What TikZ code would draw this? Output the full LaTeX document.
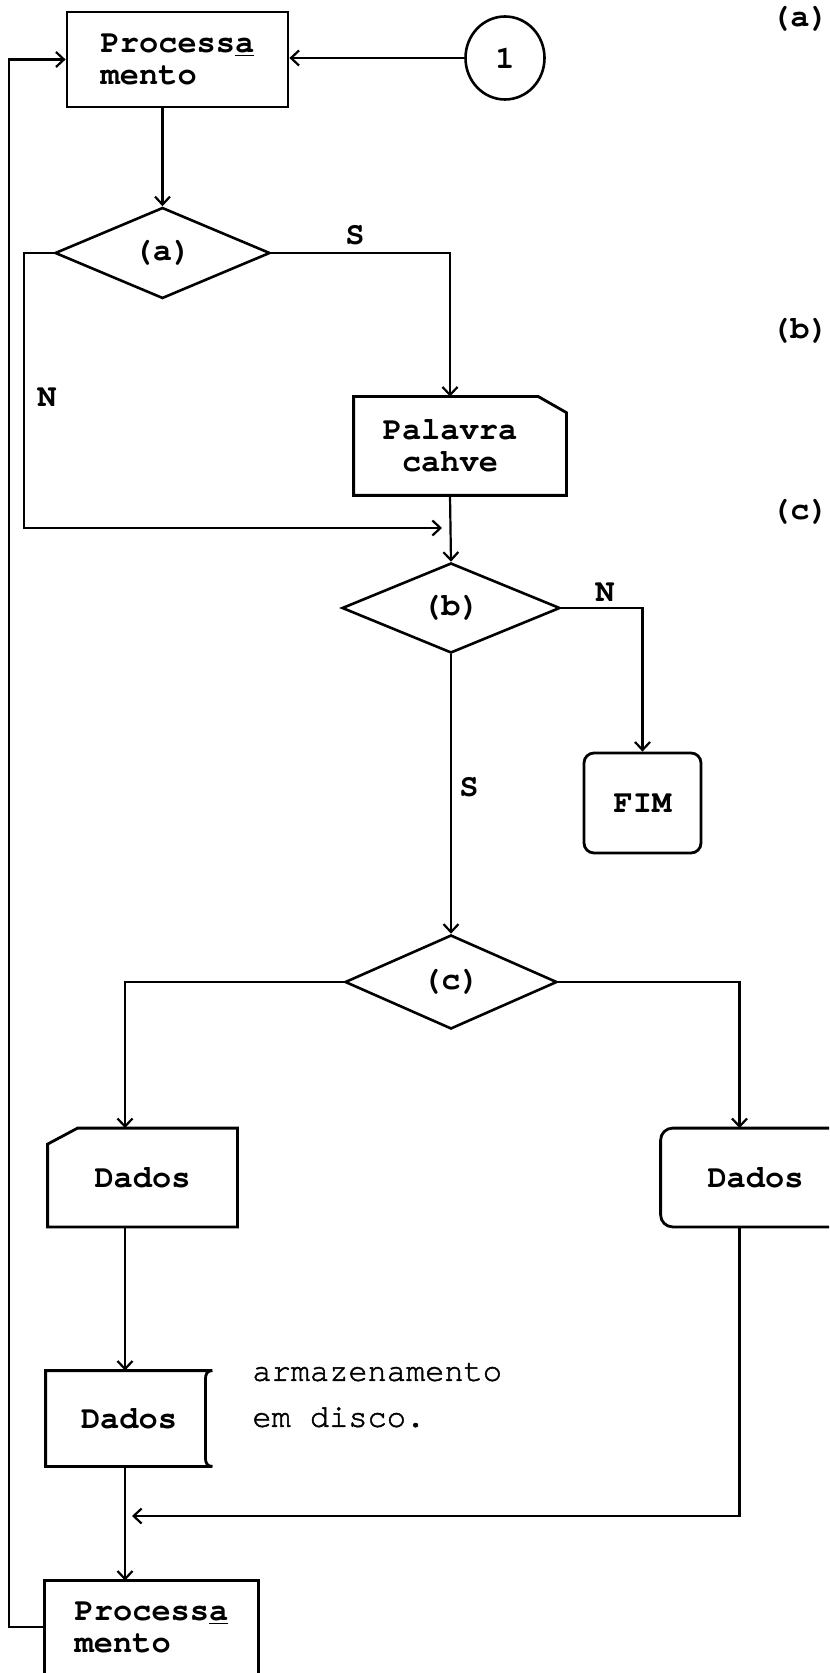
\documentclass[tikz,border=0pt]{standalone}
\usepackage{fontspec}
\setmonofont{TeX Gyre Cursor}
\newfontfamily\notefont[FakeBold=1.6]{TeX Gyre Cursor}
\usetikzlibrary{shapes.geometric,arrows.meta}
\begin{document}
\begin{tikzpicture}[x=0.5pt,y=-0.5pt,
  font=\fontsize{16}{16}\selectfont\ttfamily\bfseries,
  conn/.style={line width=1.1pt},
  arr/.style={conn,-{Straight Barb[length=4pt,width=7.5pt]}},
  shp/.style={line width=1.4pt},
  outline/.style={draw,line width=1.4pt,inner sep=0pt},
  blank/.style={draw=none,inner sep=0pt},
  decision/.style={diamond,draw,line width=1.3pt,inner sep=0pt},
  lbl/.style={inner sep=0pt}]
\useasboundingbox (0,0) rectangle (829,1673);
\clip (0,0) rectangle (829,1673);

% fixed turning points of the connectors
\coordinate (lp) at (9,0);
\coordinate (lx) at (125,0);
\coordinate (nj) at (451,528);
\coordinate (rj) at (125,1516);

% top process and connector
\node[outline,minimum width=110.5pt,minimum height=47.5pt,align=left] (tp) at (177.5,59.5) {Process\underline{a}\\mento};
\node[ellipse,draw,line width=1.3pt,minimum width=39.5pt,minimum height=41.5pt,inner sep=0pt] (c1) at (505,58) {1};

% decision (a)
\node[decision,minimum width=107.5pt,minimum height=45.5pt] (da) at (162.5,253) {(a)};

% manual input: Palavra cahve
\node[blank,minimum width=106pt,minimum height=49pt] (pal) at (460,446) {};
\draw[shp] (pal.north west) -- ([xshift=-14pt]pal.north east) -- ([yshift=-8pt]pal.north east) -- (pal.south east) -- (pal.south west) -- cycle;
\node[lbl,align=center] (palt) at (450,446) {Palavra\\cahve};

% decision (b) and terminal
\node[decision,minimum width=109pt,minimum height=45pt] (db) at (451,608) {(b)};
\node[outline,rounded corners=5pt,minimum width=58.5pt,minimum height=50pt] (fim) at (642.5,803) {FIM};

% decision (c)
\node[decision,minimum width=106pt,minimum height=47pt] (dc) at (451,982) {(c)};

% card: Dados (left)
\node[blank,minimum width=94.5pt,minimum height=49pt] (dl) at (142.5,1177.5) {Dados};
\draw[shp] ([xshift=15pt]dl.north west) -- (dl.north east) -- (dl.south east) -- (dl.south west) -- ([yshift=-8pt]dl.north west) -- cycle;

% display/terminal: Dados (right)
\node[blank,minimum width=94.5pt,minimum height=49pt] (dr) at (755.5,1177.5) {Dados};
\draw[shp,rounded corners=6pt] (dr.north east) -- (dr.north west) -- (dr.south west) -- (dr.south east);

% stored data: Dados
\node[blank,minimum width=83pt,minimum height=47.5pt] (st) at (129,1418.5) {Dados};
\draw[shp] (st.north east) -- (st.north west) -- (st.south west) -- (st.south east)
  .. controls ([xshift=-2.5pt]st.south east) and ([xshift=-3.5pt,yshift=1.5pt]st.south east) .. ([xshift=-3.5pt,yshift=4.5pt]st.south east)
  -- ([xshift=-3.5pt,yshift=-4.5pt]st.north east)
  .. controls ([xshift=-3.5pt,yshift=-1.5pt]st.north east) and ([xshift=-2.5pt]st.north east) .. (st.north east);
\node[lbl,anchor=west,align=left,font=\fontsize{16}{23}\selectfont\notefont] (note) at (252,1395) {armazenamento\\em disco.};

% bottom process
\node[blank,minimum width=106.5pt,minimum height=46pt,align=left] (bp) at (151.5,1627) {Process\underline{a}\\mento};
\draw[shp] ([yshift=-4pt]bp.south west) -- (bp.north west) -- (bp.north east) -- ([yshift=-4pt]bp.south east);

% side labels
\node[lbl] (la) at (800,19) {(a)};
\node[lbl] (lb) at (800,331) {(b)};
\node[lbl] (lc) at (800,512) {(c)};

% branch labels
\node[lbl] (sa) at (355,235) {S};
\node[lbl] (na) at (47,397) {N};
\node[lbl] (nb) at (605,592) {N};
\node[lbl] (sb) at (469,787) {S};

% connectors
\draw[arr] (c1.west) -- (c1.west -| tp.east);
\draw[arr] (da.north |- tp.south) -- (da.north);
\draw[arr] (da.east) -| (palt |- pal.north);
\draw[arr,shorten >=4.5pt] (da.west) -- ++(-15pt,0) |- (nj);
\draw[arr] (palt |- pal.south) -- (db.north);
\draw[arr] (db.east) -| (fim.north);
\draw[arr] (db.south) -- (dc.north);
\draw[arr] (dc.west) -| (lx |- dl.north);
\draw[arr] (dc.east) -| ([xshift=-8pt]dr.north);
\draw[arr] (lx |- dl.south) -- (lx |- st.north);
\draw[arr] (lx |- st.south) -- (lx |- bp.north);
\draw[arr,shorten >=3.5pt] ([xshift=-8pt]dr.south) |- (rj);
\draw[arr] (bp.west) -| (lp |- tp.west) -- (tp.west);
\end{tikzpicture}
\end{document}
